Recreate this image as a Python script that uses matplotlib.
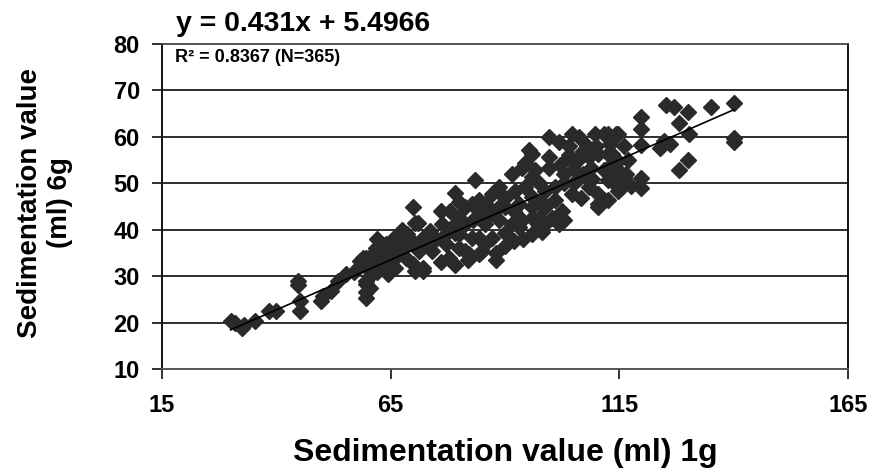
import matplotlib
matplotlib.use("Agg")
import matplotlib.pyplot as plt
import numpy as np

plt.rcParams['font.family'] = ['Liberation Sans', 'DejaVu Sans']
plt.rcParams['font.weight'] = 'bold'

# Sedimentation value (ml) 1g  vs  6g
x_1g = [
    30, 31, 32.4, 33, 35.4, 38.3, 40, 44.8, 44.8, 45.2, 45.2, 49.8, 50.2, 52, 55.2, 53.5,
    58.3, 59, 59.6, 59.6, 59.6, 60.4, 61, 61.7, 62.5, 63, 63.5, 64, 64.5, 65, 62, 60.5, 66, 66, 65.5,
    61.7, 59.6, 63.3, 59.6, 60.4, 62, 64, 66, 67.5, 68.5, 67, 65.4,
    69.8, 75.9, 70.9, 83.5, 69.1, 72, 73.5, 76.3, 78.5, 80, 81.3, 82.8, 84.3, 85.7, 81.3, 82.8,
    81.3, 84.3, 85.7, 74.1, 72, 69.8, 68.3, 70.4, 71.3, 77, 77.8, 79.1, 80, 82.2, 72, 76, 79, 82,
    78, 80, 79, 70.4,
    95.2, 95.9, 99.6, 101.7, 99.6, 99.6, 93.7, 91.5, 95.9, 97.4, 94.3, 92.2, 88.7, 87.2, 90, 85.7,
    84.3, 87.2, 90, 93, 95.9, 98.7, 97.4, 98.7, 95.9, 93.7, 91.5, 88.7, 85.7, 84.3, 87.2, 90, 93,
    85, 88, 90, 92, 94, 96, 98, 88, 98.7, 94.3, 96.5, 97.4,
    104.6, 106.1, 109.6, 112.6, 114.8, 111.7, 114.3, 103.9, 103.9, 103, 108.3, 110.4, 112.6, 114.8,
    108.9, 111.7, 114.8, 116.1, 113.9, 114.8, 111.7, 110.4, 108.3, 106.7, 104.6, 103, 100.9, 100.9,
    102.4, 100.2, 101.7, 103, 102.4, 110.4, 112.6, 110.4, 115.4, 113.3, 112.6, 114.8, 112.6,
    116, 117, 116.5, 117.5, 105, 106, 107,
    102, 104, 106, 108, 105, 107, 109, 98, 96, 92, 89, 86, 83, 80, 77, 75, 73, 70, 68, 66, 64,
    62, 60, 58, 57, 110, 113,
    140, 135, 130, 125.2, 127, 128, 119.8, 119.8, 130.2, 140, 140, 124.8, 124, 119.8, 130, 128,
    119.8, 119.8, 126,
]
y_6g = [
    20.4, 20, 18.9, 19.5, 20.4, 22.5, 22.5, 29, 28, 24.7, 22.5, 24.7, 25.8, 26.8, 30.5, 29,
    33.3, 34, 28.4, 26.5, 25.3, 32.7, 34.5, 35.5, 36, 33, 34.5, 32, 30.5, 35, 31, 30, 31.8, 36, 33.5,
    36.1, 34, 32.7, 29, 27.5, 38, 37, 38.5, 40, 39, 37, 34,
    44.8, 44.1, 41.5, 50.6, 38.3, 38.3, 39.8, 41.3, 40.5, 42.6, 44.8, 45.6, 46.3, 45.6, 41.3, 38.3,
    35.5, 34.8, 37, 35.5, 31.8, 32.7, 34, 31.2, 35.5, 37, 34, 39.2, 36.1, 34.8, 31.2, 33, 32.5, 33.5,
    44, 46, 48, 41.5,
    57.1, 56.4, 59.9, 58.8, 55.6, 53.2, 53.4, 52.1, 51.3, 50, 49.1, 48.4, 49.1, 47.8, 46.9, 45.6,
    44.1, 44.1, 44.8, 45.6, 44.8, 44.8, 42.6, 41.3, 42.6, 42, 41.3, 42, 41.3, 38.3, 38.3, 39.2, 40.5,
    35.5, 35, 36.5, 37.5, 38, 39, 39.5, 33.5, 48.4, 54.3, 52.8, 40.5,
    60.7, 59.9, 60.7, 60.7, 60.7, 60.7, 60.7, 56, 55.6, 52.1, 55.6, 56.4, 56.4, 54.9,
    53.4, 52.8, 52.8, 51.3, 50, 48.4, 46.3, 47.8, 49.1, 46.9, 47.8, 50, 49.1, 46.3,
    44.1, 42.6, 41.3, 42, 42, 44.8, 46.3, 45.6, 49, 56.4, 53.4, 52.1, 50.6,
    58, 55, 52, 49.5, 53, 51, 57,
    54, 58, 55, 58, 50, 52, 51, 46, 47, 44, 45, 43, 42, 39, 39, 38, 37, 37, 36, 34.5, 35.5,
    33.5, 31.5, 32, 31, 58, 58.5,
    67.2, 66.4, 65.3, 66.8, 66.5, 62.9, 64.2, 61.8, 60.7, 59.7, 58.8, 59.2, 57.5, 58.2, 55, 52.8,
    51.2, 49, 58.5,
]

slope = 0.431
intercept = 5.4966
trend_x = [30, 140]

x_ticks = [15, 65, 115, 165]
y_ticks = [10, 20, 30, 40, 50, 60, 70, 80]

fig = plt.figure(figsize=(8.75, 4.68), dpi=100)
ax = fig.add_axes([162/875, 1 - 369/468, 686/875, 325/468])

ax.set_xlim(15, 165)
ax.set_ylim(10, 80)

for yv in y_ticks[1:-1]:
    ax.axhline(yv, color='#1e1e1e', lw=1.3, zorder=1)

ax.plot(x_1g, y_6g, ls='', marker='D', ms=8, color='#2a2a2a', mec='#2a2a2a', zorder=3)
tx = np.array(trend_x, dtype=float)
ax.plot(tx, slope * tx + intercept, color='black', lw=1.2, zorder=4)

ax.set_xticks(x_ticks)
ax.set_yticks(y_ticks)
ax.set_xticklabels([str(v) for v in x_ticks])
ax.set_yticklabels([str(v) for v in y_ticks])
ax.tick_params(axis='x', direction='out', length=7, width=1.3, pad=11, labelsize=17, color='#222')
ax.tick_params(axis='y', direction='out', length=7, width=1.3, pad=9, labelsize=17, color='#222')
for lab in ax.get_xticklabels() + ax.get_yticklabels():
    lab.set_fontweight('bold')

for side in ['left', 'right']:
    ax.spines[side].set_color('#111')
    ax.spines[side].set_linewidth(1.4)
ax.spines['top'].set_color('#444')
ax.spines['top'].set_linewidth(1.3)
ax.spines['bottom'].set_color('#555')
ax.spines['bottom'].set_linewidth(1.4)

fig.text(176/875, 1 - 31/468, 'y = 0.431x + 5.4966', fontsize=20.5, fontweight='bold',
         ha='left', va='baseline')
fig.text(175/875, 1 - 62/468, 'R\u00b2 = 0.8367 (N=365)', fontsize=13, fontweight='bold',
         ha='left', va='baseline')

fig.text(505/875, 1 - 461/468, 'Sedimentation value (ml) 1g', fontsize=23, fontweight='bold',
         ha='center', va='baseline')
fig.text(45/875, 1 - 203/468, 'Sedimentation value\n(ml) 6g', fontsize=20, fontweight='bold',
         ha='center', va='center', rotation=90, multialignment='center', linespacing=1.2)

fig.savefig('out.png', dpi=100)
